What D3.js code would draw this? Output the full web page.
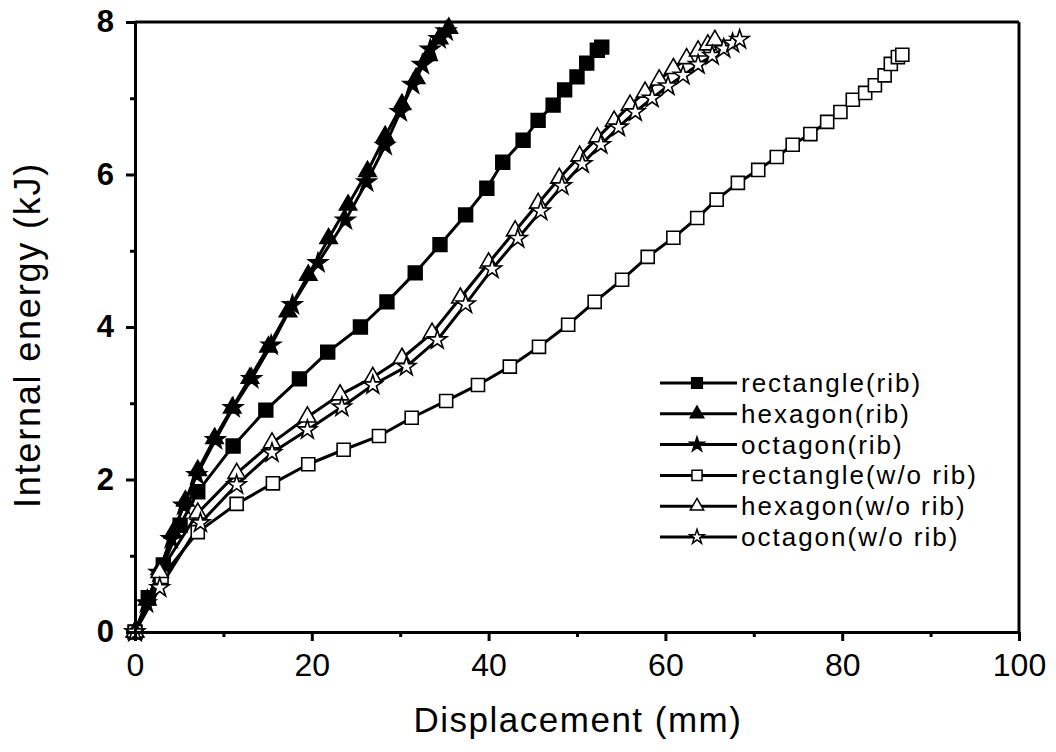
<!DOCTYPE html>
<html>
<head>
<meta charset="utf-8">
<script src="https://cdn.jsdelivr.net/npm/d3@7"></script>
<style>
body { margin: 0; background: #fff; }
</style>
</head>
<body>
<div class="CHART"></div>
<script>
// tick values
var xTicks = [0, 20, 40, 60, 80, 100];
var xMinor = [10, 30, 50, 70, 90];
var yTicks = [0, 2, 4, 6, 8];
var yMinor = [1, 3, 5, 7];

// series (displacement mm, internal energy kJ)
var rectRibX = [0, 1.5, 3.2, 5.1, 7.1, 11.1, 14.8, 18.6, 21.8, 25.5, 28.5, 31.7, 34.5, 37.4, 39.8, 41.6, 43.9, 45.6, 47.3, 48.6, 50.0, 51.1, 52.3, 52.8];
var rectRibY = [0, 0.45, 0.88, 1.4, 1.84, 2.44, 2.91, 3.32, 3.67, 4.0, 4.33, 4.71, 5.08, 5.47, 5.82, 6.16, 6.45, 6.71, 6.91, 7.11, 7.28, 7.46, 7.63, 7.67];

var hexRibX = [0, 1.4, 2.8, 4.3, 5.7, 7.1, 9.0, 11.0, 13.0, 15.1, 17.3, 19.6, 21.9, 24.1, 26.3, 28.3, 30.2, 31.8, 33.2, 34.4, 35.5];
var hexRibY = [0, 0.42, 0.82, 1.3, 1.72, 2.12, 2.54, 2.94, 3.33, 3.74, 4.2, 4.68, 5.16, 5.6, 6.04, 6.5, 6.92, 7.26, 7.56, 7.78, 7.92];

var octRibX = [0, 1.3, 2.7, 4.1, 5.5, 7.0, 9.1, 11.1, 13.2, 15.4, 17.8, 20.7, 23.8, 26.2, 28.3, 30.0, 31.4, 32.5, 33.4, 34.4, 35.2];
var octRibY = [0, 0.38, 0.78, 1.22, 1.66, 2.06, 2.52, 2.94, 3.32, 3.76, 4.29, 4.84, 5.4, 5.9, 6.38, 6.82, 7.18, 7.44, 7.64, 7.78, 7.88];

var rectNoX = [0, 3.0, 7.1, 11.5, 15.6, 19.6, 23.6, 27.6, 31.3, 35.2, 38.8, 42.4, 45.7, 49.0, 52.0, 55.1, 58.0, 60.9, 63.6, 65.8, 68.2, 70.5, 72.6, 74.4, 76.4, 78.3, 79.8, 81.2, 82.6, 83.7, 84.8, 85.5, 86.3, 86.8];
var rectNoY = [0, 0.72, 1.31, 1.68, 1.95, 2.2, 2.39, 2.57, 2.81, 3.03, 3.24, 3.48, 3.74, 4.03, 4.33, 4.62, 4.92, 5.17, 5.43, 5.67, 5.89, 6.06, 6.23, 6.39, 6.53, 6.69, 6.82, 6.98, 7.07, 7.17, 7.3, 7.45, 7.54, 7.57];

var hexNoX = [0, 2.8, 7.1, 11.5, 15.5, 19.5, 23.2, 26.9, 30.2, 33.6, 36.8, 40.0, 43.0, 45.6, 48.0, 50.3, 52.3, 54.2, 56.0, 57.7, 59.3, 60.9, 62.4, 63.7, 64.8, 65.6];
var hexNoY = [0, 0.78, 1.56, 2.08, 2.48, 2.82, 3.11, 3.34, 3.59, 3.92, 4.38, 4.84, 5.26, 5.62, 5.95, 6.24, 6.48, 6.7, 6.91, 7.08, 7.24, 7.39, 7.52, 7.62, 7.7, 7.76];

var octNoX = [0, 2.8, 7.4, 11.5, 15.5, 19.5, 23.4, 26.9, 30.7, 34.2, 37.4, 40.4, 43.3, 45.9, 48.3, 50.6, 52.7, 54.7, 56.6, 58.5, 60.3, 62.0, 63.7, 65.3, 66.6, 67.6, 68.4];
var octNoY = [0, 0.58, 1.43, 1.93, 2.35, 2.65, 2.95, 3.24, 3.48, 3.83, 4.3, 4.76, 5.16, 5.52, 5.85, 6.14, 6.39, 6.62, 6.82, 7.0, 7.16, 7.3, 7.44, 7.56, 7.65, 7.72, 7.77];

var labels = ["rectangle(rib)", "hexagon(rib)", "octagon(rib)", "rectangle(w/o rib)", "hexagon(w/o rib)", "octagon(w/o rib)"];

var margin = {top: 22, right: 37, bottom: 120, left: 135},
    width = 1056 - margin.left - margin.right,
    height = 752 - margin.top - margin.bottom;

var svg = d3.select(".CHART").append("svg")
    .attr("width", width + margin.left + margin.right)
    .attr("height", height + margin.top + margin.bottom);

var g = svg.append("g").attr("transform", "translate(" + margin.left + "," + margin.top + ")");

var x = d3.scaleLinear().domain([0, 100]).range([0, width]);
var y = d3.scaleLinear().domain([0, 8]).range([height, 0]);

var FONT = "'Liberation Sans', Arial, sans-serif";

// symbol shapes and fill, one per series
var series = [
  {xs: rectRibX, ys: rectRibY, sym: d3.symbolSquare,   size: 190, fill: "#000"},
  {xs: hexRibX,  ys: hexRibY,  sym: d3.symbolTriangle, size: 130, fill: "#000"},
  {xs: octRibX,  ys: octRibY,  sym: d3.symbolStar,     size: 110, fill: "#000"},
  {xs: rectNoX,  ys: rectNoY,  sym: d3.symbolSquare,   size: 170, fill: "#fff"},
  {xs: hexNoX,   ys: hexNoY,   sym: d3.symbolTriangle, size: 130, fill: "#fff"},
  {xs: octNoX,   ys: octNoY,   sym: d3.symbolStar,     size: 110, fill: "#fff"}
];

var line = d3.line().x(function(d) { return x(d[0]); }).y(function(d) { return y(d[1]); });

// lines first
series.forEach(function(s) {
  var pts = d3.zip(s.xs, s.ys);
  g.append("path")
    .datum(pts)
    .attr("d", line)
    .attr("fill", "none")
    .attr("stroke", "#000")
    .attr("stroke-width", 3)
    .attr("stroke-linejoin", "round");
});

// then markers
series.forEach(function(s) {
  var pts = d3.zip(s.xs, s.ys);
  g.selectAll(null)
    .data(pts)
    .enter().append("path")
    .attr("d", d3.symbol().type(s.sym).size(s.size))
    .attr("transform", function(d) { return "translate(" + x(d[0]) + "," + y(d[1]) + ")"; })
    .attr("fill", s.fill)
    .attr("stroke", "#000")
    .attr("stroke-width", 1.6);
});

// axes
var xAxis = g.append("g").attr("transform", "translate(0," + height + ")")
  .call(d3.axisBottom(x).tickValues(xTicks).tickSize(9).tickSizeOuter(0).tickPadding(12));
var xAxisMinor = g.append("g").attr("transform", "translate(0," + height + ")")
  .call(d3.axisBottom(x).tickValues(xMinor).tickSize(5).tickSizeOuter(0).tickFormat(""));
var yAxis = g.append("g")
  .call(d3.axisLeft(y).tickValues(yTicks).tickSize(9).tickSizeOuter(0).tickPadding(12));
var yAxisMinor = g.append("g")
  .call(d3.axisLeft(y).tickValues(yMinor).tickSize(5).tickSizeOuter(0).tickFormat(""));

[xAxis, xAxisMinor, yAxis, yAxisMinor].forEach(function(a) {
  a.selectAll("path, line").attr("stroke", "#000").attr("stroke-width", 3);
});
xAxis.selectAll("text").attr("font-family", FONT).attr("font-size", "32px").attr("fill", "#000");
yAxis.selectAll("text").attr("font-family", FONT).attr("font-size", "31px").attr("font-weight", "bold").attr("fill", "#000");

// top and right frame
g.append("line").attr("x1", 0).attr("x2", width).attr("y1", 0).attr("y2", 0)
  .attr("stroke", "#000").attr("stroke-width", 3);
g.append("line").attr("x1", width).attr("x2", width).attr("y1", 0).attr("y2", height)
  .attr("stroke", "#000").attr("stroke-width", 3);

// axis titles
g.append("text")
  .attr("x", width / 2 + 1)
  .attr("y", height + 100)
  .attr("text-anchor", "middle")
  .attr("font-family", FONT)
  .attr("font-size", "35px")
  .attr("letter-spacing", "1.5px")
  .text("Displacement (mm)");

g.append("text")
  .attr("transform", "translate(" + (-95) + "," + (height / 2 + 8) + ") rotate(-90)")
  .attr("text-anchor", "middle")
  .attr("font-family", FONT)
  .attr("font-size", "36px")
  .attr("letter-spacing", "1.8px")
  .text("Internal energy (kJ)");

// legend
var legend = g.append("g").attr("transform", "translate(" + (660 - margin.left) + "," + (383 - margin.top) + ")");
series.forEach(function(s, i) {
  var row = legend.append("g").attr("transform", "translate(0," + (i * 30.8) + ")");
  row.append("line").attr("x1", 0).attr("x2", 77).attr("y1", 0).attr("y2", 0)
    .attr("stroke", "#000").attr("stroke-width", 3);
  row.append("path")
    .attr("d", d3.symbol().type(s.sym).size(s.size * 0.6))
    .attr("transform", "translate(37,0)")
    .attr("fill", s.fill)
    .attr("stroke", "#000")
    .attr("stroke-width", 1.5);
  row.append("text")
    .attr("x", 81)
    .attr("y", 9)
    .attr("font-family", FONT)
    .attr("font-size", "26px")
    .attr("letter-spacing", "2px")
    .text(labels[i]);
});
</script>
</body>
</html>
